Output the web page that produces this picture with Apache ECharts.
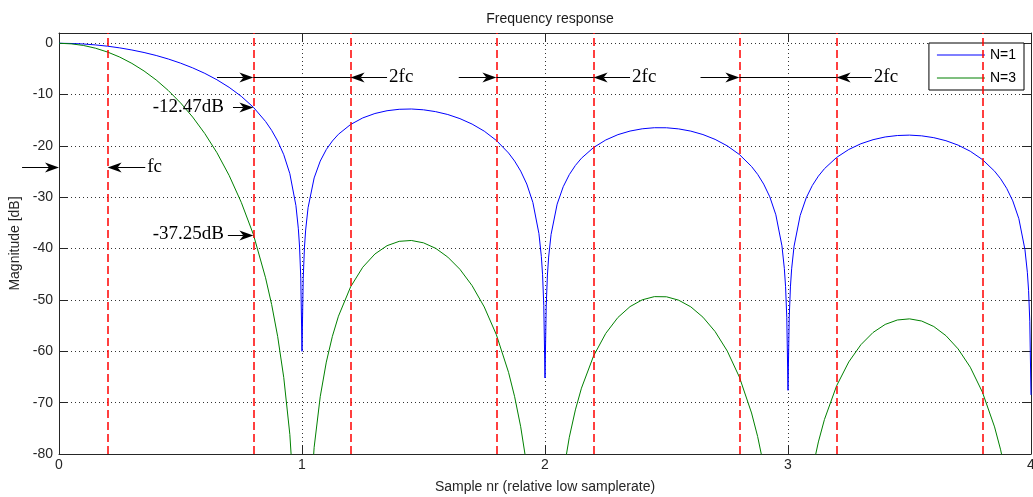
<!DOCTYPE html>
<html>
<head>
<meta charset="utf-8">
<script src="https://cdn.jsdelivr.net/npm/echarts@6/dist/echarts.min.js"></script>
<style>
  html, body { margin: 0; padding: 0; background: #fff; }
  #chart { width: 1033px; height: 497px; }
</style>
</head>
<body>
<div id="chart"></div>
<script>
// Frequency axis, in samples of the low rate
const sampleNr = [
  0, 0.05, 0.1, 0.15, 0.2, 0.25, 0.3, 0.35, 0.4, 0.45, 0.5, 0.55, 0.6, 0.65, 0.7, 0.75, 0.8, 0.85, 0.875, 0.9, 0.925, 0.95, 0.975, 0.985, 0.99, 0.995,
  1, 1.005, 1.01, 1.015, 1.025, 1.05, 1.075, 1.1, 1.125, 1.15, 1.2, 1.25, 1.3, 1.35, 1.4, 1.45, 1.5, 1.55, 1.6, 1.65, 1.7, 1.75, 1.8, 1.85, 1.875, 1.9, 1.925, 1.95, 1.975, 1.985, 1.99, 1.995,
  2, 2.005, 2.01, 2.015, 2.025, 2.05, 2.075, 2.1, 2.125, 2.15, 2.2, 2.25, 2.3, 2.35, 2.4, 2.45, 2.5, 2.55, 2.6, 2.65, 2.7, 2.75, 2.8, 2.85, 2.875, 2.9, 2.925, 2.95, 2.975, 2.985, 2.99, 2.995,
  3, 3.005, 3.01, 3.015, 3.025, 3.05, 3.075, 3.1, 3.125, 3.15, 3.2, 3.25, 3.3, 3.35, 3.4, 3.45, 3.5, 3.55, 3.6, 3.65, 3.7, 3.75, 3.8, 3.85, 3.875, 3.9, 3.925, 3.95, 3.975, 3.985, 3.99, 3.995,
  4
];

// Magnitude in dB, single stage
const magN1 = [
  0, -0.04, -0.14, -0.32, -0.57, -0.90, -1.31, -1.80, -2.38, -3.07, -3.87, -4.79, -5.86, -7.11, -8.58, -10.33, -12.47, -15.23, -16.96, -19.05, -21.71, -25.41, -31.62, -36.13, -39.69, -45.76,
  -60.0, -45.84, -39.86, -36.38, -32.03, -26.23, -22.95, -20.70, -19.03, -17.72, -15.82, -14.54, -13.68, -13.14, -12.86, -12.80, -12.96, -13.32, -13.88, -14.68, -15.74, -17.12, -18.93, -21.37, -22.95, -24.90, -27.42, -30.99, -37.07, -41.54, -45.08, -51.11,
  -65.2, -51.15, -45.14, -41.64, -37.24, -31.33, -27.94, -25.58, -23.80, -22.39, -20.30, -18.84, -17.80, -17.10, -16.66, -16.45, -16.46, -16.68, -17.11, -17.78, -18.72, -19.98, -21.67, -24.00, -25.53, -27.43, -29.90, -33.41, -39.45, -43.89, -47.42, -53.45,
  -67.6, -53.46, -47.45, -43.93, -39.52, -33.56, -30.11, -27.71, -25.88, -24.43, -22.24, -20.69, -19.57, -18.78, -18.25, -17.97, -17.89, -18.03, -18.39, -18.98, -19.84, -21.03, -22.65, -24.91, -26.40, -28.26, -30.70, -34.17, -40.17, -44.60, -48.12, -54.14,
  -68.5
];

// Magnitude in dB, three stages
const magN3 = [
  0, -0.11, -0.42, -0.96, -1.71, -2.69, -3.92, -5.40, -7.15, -9.21, -11.60, -14.37, -17.59, -21.32, -25.73, -30.98, -37.25, -45.68, -50.87, -57.14, -65.13, -76.22, -94.85, -108.40, -119.08, -137.27,
  -180.0, -137.51, -119.58, -109.14, -96.09, -78.70, -68.84, -62.10, -57.08, -53.16, -47.45, -43.62, -41.05, -39.42, -38.58, -38.41, -38.87, -39.94, -41.65, -44.03, -47.21, -51.36, -56.78, -64.10, -68.84, -74.69, -82.27, -92.97, -111.22, -124.61, -135.23, -153.34,
  -195.6, -153.44, -135.43, -124.92, -111.73, -94.00, -83.81, -76.74, -71.41, -67.18, -60.89, -56.51, -53.41, -51.29, -49.97, -49.35, -49.38, -50.04, -51.34, -53.35, -56.15, -59.94, -65.02, -72.01, -76.59, -82.28, -89.70, -100.24, -118.34, -131.67, -142.25, -160.34,
  -202.8, -160.38, -142.34, -131.80, -118.55, -100.67, -90.34, -83.12, -77.65, -73.28, -66.72, -62.07, -58.71, -56.33, -54.76, -53.90, -53.68, -54.10, -55.17, -56.95, -59.53, -63.09, -67.95, -74.72, -79.19, -84.77, -92.09, -102.52, -120.50, -133.80, -144.36, -162.42,
  -205.5
];

// Passband edges (fc) around each multiple of the low sample rate
const cutoffLines = [0.2, 0.8, 1.2, 1.8, 2.2, 2.8, 3.2, 3.8];

// Width markers: [tail of right arrow, left edge, right edge, tail of left arrow]
const bandMarks = [
  [0.65, 0.8, 1.2, 1.35],
  [1.645, 1.8, 2.2, 2.35],
  [2.64, 2.8, 3.2, 3.345]
];
const bandLevel = -6.5;
const bandText = '2fc';

// Cutoff marker: two arrows pointing at 0 and at fc
const fcMark = { level: -24.1, leftTail: -0.152, leftTip: 0, rightTail: 0.355, rightTip: 0.2, text: 'fc' };

// Attenuation readouts at the first image edge
const dbMarks = [
  { tip: 0.8, level: -12.47, tail: 0.716, textAt: 0.679, text: '-12.47dB' },
  { tip: 0.8, level: -37.25, tail: 0.695, textAt: 0.679, text: '-37.25dB' }
];

const SANS = '"Liberation Sans", Arial, Helvetica, sans-serif';
const SERIF = '"Liberation Serif", "Times New Roman", serif';
const AXIS_COLOR = '#262626';

const chart = echarts.init(document.getElementById('chart'), null, { renderer: 'canvas' });

const pairs = (ys) => sampleNr.map((x, i) => [x, ys[i]]);

const option = {
  animation: false,
  backgroundColor: '#fff',
  title: {
    text: 'Frequency response',
    left: 545,
    textAlign: 'center',
    top: 7,
    textStyle: { fontSize: 14, fontWeight: 'normal', color: '#1a1a1a', fontFamily: SANS }
  },
  legend: {
    orient: 'vertical',
    right: 9,
    top: 43,
    backgroundColor: '#fff',
    borderColor: '#000',
    borderWidth: 1,
    borderRadius: 0,
    padding: [4, 8, 4, 8],
    icon: 'rect',
    itemWidth: 48,
    itemHeight: 1,
    itemGap: 7,
    textStyle: { fontSize: 14, color: '#000', fontFamily: SANS, lineHeight: 16 },
    data: ['N=1', 'N=3']
  },
  grid: { left: 59, right: 2, top: 33, bottom: 43, containLabel: false, outerBoundsMode: 'none' },
  xAxis: [
    {
      type: 'value', min: 0, max: 4, interval: 1, position: 'bottom',
      name: 'Sample nr (relative low samplerate)',
      nameLocation: 'middle', nameGap: 26,
      nameTextStyle: { fontSize: 14, color: AXIS_COLOR, fontFamily: SANS },
      axisLine: { show: true, onZero: false, lineStyle: { color: AXIS_COLOR, width: 1 } },
      axisTick: { show: true, inside: true, length: 9, lineStyle: { color: AXIS_COLOR } },
      axisLabel: { fontSize: 14, color: AXIS_COLOR, margin: 4, fontFamily: SANS },
      splitLine: { show: true, lineStyle: { color: '#333', type: [1, 3], width: 1 } }
    },
    {
      type: 'value', min: 0, max: 4, interval: 1, position: 'top',
      axisLine: { show: true, onZero: false, lineStyle: { color: AXIS_COLOR, width: 1 } },
      axisTick: { show: true, inside: true, length: 9, lineStyle: { color: AXIS_COLOR } },
      axisLabel: { show: false },
      splitLine: { show: false }
    }
  ],
  yAxis: [
    {
      type: 'value', min: -80, max: 2, interval: 10, position: 'left',
      name: 'Magnitude [dB]',
      nameLocation: 'middle', nameGap: 31, nameRotate: 90,
      nameTextStyle: { fontSize: 14, color: AXIS_COLOR, fontFamily: SANS },
      axisLine: { show: true, onZero: false, lineStyle: { color: AXIS_COLOR, width: 1 } },
      axisTick: { show: true, inside: true, length: 9, lineStyle: { color: AXIS_COLOR } },
      axisLabel: {
        fontSize: 14, color: AXIS_COLOR, margin: 6, fontFamily: SANS,
        formatter: (v) => (Math.round(v) % 10 === 0 ? String(v) : '')
      },
      splitLine: { show: true, lineStyle: { color: '#333', type: [1, 3], width: 1 } }
    },
    {
      type: 'value', min: -80, max: 2, interval: 10, position: 'right',
      axisLine: { show: true, onZero: false, lineStyle: { color: AXIS_COLOR, width: 1 } },
      axisTick: { show: true, inside: true, length: 9, lineStyle: { color: AXIS_COLOR } },
      axisLabel: { show: false },
      splitLine: { show: false }
    }
  ],
  series: [
    {
      name: 'N=1', type: 'line', xAxisIndex: 0, yAxisIndex: 0,
      data: pairs(magN1), symbol: 'none', clip: true, z: 3,
      lineStyle: { color: '#0000ff', width: 1 }, itemStyle: { color: '#0000ff' },
      emphasis: { disabled: true }
    },
    {
      name: 'N=3', type: 'line', xAxisIndex: 0, yAxisIndex: 0,
      data: pairs(magN3), symbol: 'none', clip: true, z: 4,
      lineStyle: { color: '#008000', width: 1 }, itemStyle: { color: '#008000' },
      emphasis: { disabled: true },
      markLine: {
        silent: true, symbol: ['none', 'none'], animation: false,
        label: { show: false },
        emphasis: { disabled: true },
        lineStyle: { color: '#ff0000', type: [8, 4], width: 1.5 },
        data: cutoffLines.map((v) => ({ xAxis: v }))
      }
    }
  ]
};

chart.setOption(option);

// Annotation arrows, placed in data coordinates
const toPx = (x, y) => chart.convertToPixel({ gridIndex: 0 }, [x, y]);

function arrow(tail, tip) {
  const dx = tip[0] - tail[0], dy = tip[1] - tail[1];
  const len = Math.hypot(dx, dy) || 1;
  const ux = dx / len, uy = dy / len, nx = -uy, ny = ux;
  const L = 14, W = 5, N = 10;
  const y = Math.round(tip[1]) + 0.5;
  return [
    { type: 'line', z: 100, shape: { x1: tail[0], y1: y, x2: tip[0] - ux * N, y2: y }, style: { stroke: '#000', lineWidth: 1 } },
    {
      type: 'polygon', z: 100,
      shape: { points: [
        [tip[0], y],
        [tip[0] - ux * L + nx * W, y - uy * L + ny * W],
        [tip[0] - ux * N, y],
        [tip[0] - ux * L - nx * W, y - uy * L - ny * W]
      ] },
      style: { fill: '#000' }
    }
  ];
}

function plainLine(a, b) {
  const y = Math.round(a[1]) + 0.5;
  return { type: 'line', z: 100, shape: { x1: a[0], y1: y, x2: b[0], y2: y }, style: { stroke: '#000', lineWidth: 1 } };
}

function label(p, text, align) {
  return {
    type: 'text', z: 100, x: p[0], y: p[1],
    style: { text, font: '19px ' + SERIF, fill: '#000', textAlign: align, textVerticalAlign: 'middle', verticalAlign: 'middle' }
  };
}

const shapes = [];
bandMarks.forEach(([t1, e1, e2, t2]) => {
  const a = toPx(t1, bandLevel), b = toPx(e1, bandLevel), c = toPx(e2, bandLevel), d = toPx(t2, bandLevel);
  shapes.push(...arrow(a, b));
  shapes.push(plainLine(b, c));
  shapes.push(...arrow(d, c));
  shapes.push(label([d[0] + 2, d[1]], bandText, 'left'));
});

{
  const m = fcMark;
  const a = toPx(m.leftTail, m.level), b = toPx(m.leftTip, m.level);
  const c = toPx(m.rightTail, m.level), d = toPx(m.rightTip, m.level);
  shapes.push(...arrow(a, b));
  shapes.push(...arrow(c, d));
  shapes.push(label([c[0] + 2, c[1]], m.text, 'left'));
}

dbMarks.forEach((m) => {
  const tail = toPx(m.tail, m.level), tip = toPx(m.tip, m.level), t = toPx(m.textAt, m.level);
  shapes.push(...arrow(tail, tip));
  shapes.push(label(t, m.text, 'right'));
});

chart.setOption({ graphic: { elements: shapes } });
</script>
</body>
</html>
